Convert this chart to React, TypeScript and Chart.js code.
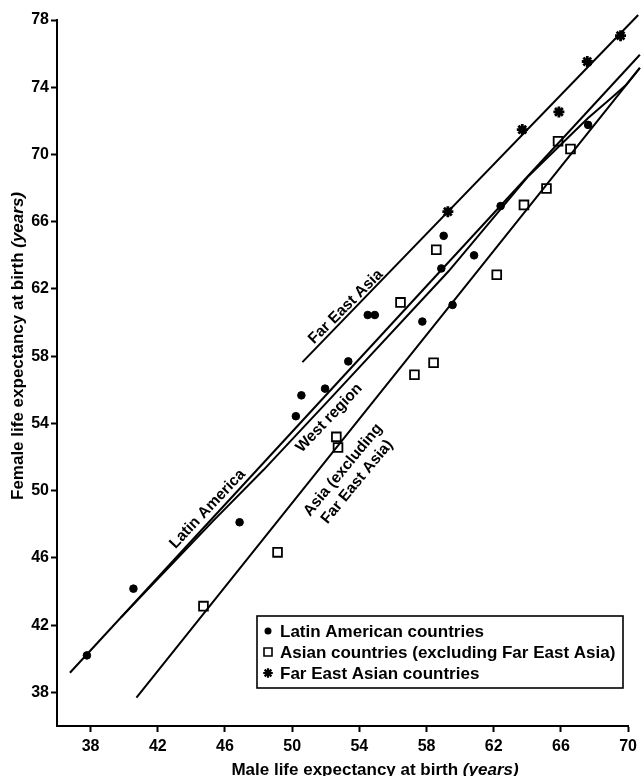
import React, { useEffect, useRef } from 'react';
import { Chart, registerables } from 'chart.js';

Chart.register(...registerables);

const FONT = '"Liberation Sans", Arial, Helvetica, sans-serif';

// Axis ticks
const xTicks = [38, 42, 46, 50, 54, 58, 62, 66, 70];
const yTicks = [38, 42, 46, 50, 54, 58, 62, 66, 70, 74, 78];

// Latin American countries (male, female)
const latinMale = [37.78, 40.55, 46.87, 50.22, 50.55, 51.96, 53.34, 54.5, 54.92, 57.75, 58.88, 59.02, 59.55, 60.83, 62.41, 67.62];
const latinFemale = [40.2, 44.17, 48.12, 54.43, 55.67, 56.07, 57.69, 60.45, 60.45, 60.06, 63.22, 65.16, 61.05, 64.0, 66.93, 71.76];

// Asian countries excluding Far East Asia
const asiaMale = [44.72, 49.13, 52.63, 52.73, 56.45, 57.28, 58.42, 62.18, 58.58, 63.8, 65.14, 65.83, 66.57, 70.48, 70.6];
const asiaFemale = [43.13, 46.33, 53.2, 52.57, 61.2, 56.9, 57.61, 62.84, 64.33, 67.0, 67.98, 70.79, 70.33, 73.95, 73.06];

// Far East Asian countries
const feMale = [59.27, 63.7, 65.88, 67.57, 69.55];
const feFemale = [66.6, 71.48, 72.53, 75.53, 77.07];

// Fitted / model lines
const laLineMale = [36.77, 70.7];
const laLineFemale = [39.17, 75.93];
const westLineMale = [39.8, 45.3, 48.3, 52.2, 59.31, 64.06, 67.62, 69.0, 69.89, 70.7];
const westLineFemale = [42.45, 48.2, 51.24, 55.4, 63.05, 68.71, 72.17, 73.36, 74.15, 75.15];
const asiaLineMale = [40.73, 59.31, 70.7];
const asiaLineFemale = [37.69, 60.91, 75.15];
const feLineMale = [50.61, 70.6];
const feLineFemale = [57.65, 78.3];

// Line labels (anchored in data coordinates)
const lineLabels = ['Latin America', 'West region', 'Far East Asia', 'Asia (excluding', 'Far East Asia)'];
const lineLabelMale = [44.96, 52.2, 53.19, 53.03, 53.86];
const lineLabelFemale = [48.91, 54.32, 60.94, 51.23, 50.52];
const lineLabelAngle = [-46.6, -46.4, -45, -50.5, -50.5];

const legendLabels = ['Latin American countries', 'Asian countries (excluding Far East Asia)', 'Far East Asian countries'];
const xTitle = ['Male life expectancy at birth ', '(years)'];
const yTitle = ['Female life expectancy at birth ', '(years)'];

const pts = (xs: number[], ys: number[]) => xs.map((x, i) => ({ x, y: ys[i] }));

function drawMarker(ctx: CanvasRenderingContext2D, kind: string, x: number, y: number, r: number) {
  ctx.save();
  ctx.strokeStyle = '#000';
  ctx.fillStyle = '#000';
  if (kind === 'circle') {
    ctx.beginPath();
    ctx.arc(x, y, r, 0, Math.PI * 2);
    ctx.fill();
  } else if (kind === 'rect') {
    ctx.lineWidth = 1.6;
    ctx.fillStyle = '#fff';
    ctx.beginPath();
    ctx.rect(x - r, y - r, 2 * r, 2 * r);
    ctx.fill();
    ctx.stroke();
  } else {
    ctx.lineWidth = 2.2;
    ctx.beginPath();
    for (let k = 0; k < 4; k++) {
      const a = (k * Math.PI) / 4;
      ctx.moveTo(x - Math.cos(a) * r, y - Math.sin(a) * r);
      ctx.lineTo(x + Math.cos(a) * r, y + Math.sin(a) * r);
    }
    ctx.stroke();
  }
  ctx.restore();
}

function drawMixed(ctx: CanvasRenderingContext2D, parts: string[], size: number) {
  const f1 = `bold ${size}px ${FONT}`;
  const f2 = `italic bold ${size}px ${FONT}`;
  ctx.font = f1;
  const w1 = ctx.measureText(parts[0]).width;
  ctx.font = f2;
  const w2 = ctx.measureText(parts[1]).width;
  const start = -(w1 + w2) / 2;
  ctx.textAlign = 'left';
  ctx.textBaseline = 'alphabetic';
  ctx.font = f1;
  ctx.fillText(parts[0], start, 0);
  ctx.font = f2;
  ctx.fillText(parts[1], start + w1, 0);
}

const decorPlugin = {
  id: 'decor',
  afterDatasetsDraw(chart: any) {
    const ctx: CanvasRenderingContext2D = chart.ctx;
    const xs = chart.scales.x;
    const ys = chart.scales.y;
    ctx.save();
    ctx.fillStyle = '#000';
    // line labels
    lineLabels.forEach((t, i) => {
      const px = xs.getPixelForValue(lineLabelMale[i]);
      const py = ys.getPixelForValue(lineLabelFemale[i]);
      ctx.save();
      ctx.translate(px, py);
      ctx.rotate((lineLabelAngle[i] * Math.PI) / 180);
      ctx.font = `bold 15.5px ${FONT}`;
      ctx.textAlign = 'center';
      ctx.textBaseline = 'middle';
      ctx.fillText(t, 0, 0);
      ctx.restore();
    });
    // legend box
    const bl = 257, bt = 616, br = 623, bb = 688;
    ctx.lineWidth = 1.6;
    ctx.strokeStyle = '#000';
    ctx.fillStyle = '#fff';
    ctx.fillRect(bl, bt, br - bl, bb - bt);
    ctx.strokeRect(bl, bt, br - bl, bb - bt);
    const kinds = ['circle', 'rect', 'star'];
    const radii = [3.5, 4, 4.8];
    legendLabels.forEach((t, i) => {
      const cy = bt + 15 + i * 21;
      drawMarker(ctx, kinds[i], 268, cy, radii[i]);
      ctx.fillStyle = '#000';
      ctx.font = `bold 17px ${FONT}`;
      ctx.textAlign = 'left';
      ctx.textBaseline = 'middle';
      ctx.fillText(t, 280, cy + 1);
    });
    // axis titles
    ctx.fillStyle = '#000';
    ctx.save();
    ctx.translate(375, 775);
    drawMixed(ctx, xTitle, 17);
    ctx.restore();
    ctx.save();
    ctx.translate(23, 346);
    ctx.rotate(-Math.PI / 2);
    drawMixed(ctx, yTitle, 17);
    ctx.restore();
    ctx.restore();
  },
};

export default function App() {
  const ref = useRef<HTMLCanvasElement | null>(null);
  useEffect(() => {
    if (!ref.current) return;
    const lineDs = (label: string, xsArr: number[], ysArr: number[]) => ({
      label,
      data: pts(xsArr, ysArr),
      showLine: true,
      borderColor: '#000',
      borderWidth: 2,
      pointRadius: 0,
      fill: false,
      clip: false as any,
    });
    const tickFont = { family: FONT, size: 16, weight: 'bold' as const };
    const chart = new Chart(ref.current, {
      type: 'scatter',
      data: {
        datasets: [
          lineDs('Latin America', laLineMale, laLineFemale),
          lineDs('West region', westLineMale, westLineFemale),
          lineDs('Asia (excluding Far East Asia)', asiaLineMale, asiaLineFemale),
          lineDs('Far East Asia', feLineMale, feLineFemale),
          {
            label: legendLabels[0],
            data: pts(latinMale, latinFemale),
            pointStyle: 'circle',
            pointRadius: 3.8,
            backgroundColor: '#000',
            borderColor: '#000',
            borderWidth: 1,
            clip: false as any,
          },
          {
            label: legendLabels[1],
            data: pts(asiaMale, asiaFemale),
            pointStyle: 'rect',
            pointRadius: 6.2,
            backgroundColor: '#fff',
            borderColor: '#000',
            borderWidth: 1.8,
            clip: false as any,
          },
          {
            label: legendLabels[2],
            data: pts(feMale, feFemale),
            pointStyle: 'star',
            pointRadius: 5.5,
            backgroundColor: '#000',
            borderColor: '#000',
            borderWidth: 2.8,
            clip: false as any,
          },
        ],
      },
      options: {
        animation: false,
        responsive: false,
        events: [],
        layout: { padding: { top: 20, right: 12, left: 0, bottom: 0 } },
        plugins: { legend: { display: false }, tooltip: { enabled: false }, title: { display: false } },
        scales: {
          x: {
            type: 'linear',
            min: 36,
            max: 70,
            afterBuildTicks: (s: any) => {
              s.ticks = xTicks.map((v) => ({ value: v }));
            },
            afterFit: (s: any) => {
              s.height = 50;
            },
            ticks: { font: tickFont, color: '#000', padding: 5, autoSkip: false, maxRotation: 0 },
            grid: { display: true, drawOnChartArea: false, drawTicks: true, tickLength: 6, tickWidth: 2, tickColor: '#000' },
            border: { display: true, color: '#000', width: 2 },
          },
          y: {
            type: 'linear',
            min: 36,
            max: 78,
            afterBuildTicks: (s: any) => {
              s.ticks = yTicks.map((v) => ({ value: v }));
            },
            afterFit: (s: any) => {
              s.width = 57;
            },
            ticks: { font: tickFont, color: '#000', padding: 2, autoSkip: false },
            grid: { display: true, drawOnChartArea: false, drawTicks: true, tickLength: 6, tickWidth: 2, tickColor: '#000' },
            border: { display: true, color: '#000', width: 2 },
          },
        },
      },
      plugins: [decorPlugin],
    });
    return () => chart.destroy();
  }, []);
  return (
    <div style={{ position: 'absolute', left: 0, top: 0, width: 642, height: 776, background: '#fff' }}>
      <canvas ref={ref} width={642} height={776} style={{ display: 'block' }} />
    </div>
  );
}
